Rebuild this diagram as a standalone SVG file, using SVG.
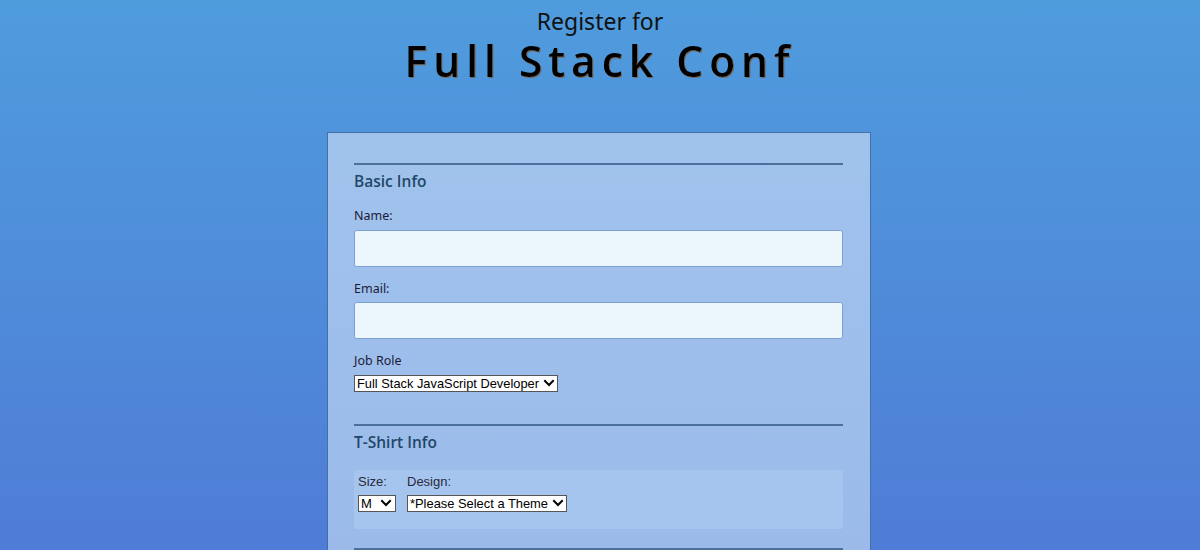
<svg xmlns="http://www.w3.org/2000/svg" width="1200" height="550" viewBox="0 0 1200 550">
<defs>
<linearGradient id="bg" x1="0" y1="0" x2="0" y2="1">
<stop offset="0" stop-color="#4f9cdd"/>
<stop offset="1" stop-color="#4f7cd6"/>
</linearGradient>
<linearGradient id="panel" x1="0" y1="0" x2="0" y2="1">
<stop offset="0" stop-color="#a0c3ec"/>
<stop offset="1" stop-color="#9bbaea"/>
</linearGradient>
<filter id="shadow" x="-5%" y="-20%" width="110%" height="140%">
<feDropShadow dx="1" dy="1" stdDeviation="0.6" flood-color="#7a5a40" flood-opacity="0.8"/>
</filter>
<style>
.h{font-family:"Open Sans","Noto Sans",sans-serif;fill:#1f4868;font-size:15.5px;font-weight:600}
.lbl{font-family:"Noto Sans","Open Sans",sans-serif;fill:#1b1b38;font-size:12.5px}
.sl{font-family:"Liberation Sans",Arial,sans-serif;fill:#2a2a3a;font-size:13px}
.st{font-family:"Liberation Sans",Arial,sans-serif;fill:#000;font-size:13px}
.rule{stroke:#4c709c;stroke-width:2}
.inp{fill:#ebf7fd;stroke:#7b9fd0;stroke-width:1}
.sel{fill:#fff;stroke:#555;stroke-width:1}
.chev{fill:none;stroke:#000;stroke-width:2;stroke-linecap:square}
</style>
</defs>
<rect x="0" y="0" width="1200" height="550" fill="url(#bg)"/>
<g id="header">
<text x="600" y="30" text-anchor="middle" font-family="Noto Sans, sans-serif" font-size="23" fill="#111">Register for</text>
<text x="600" y="77" text-anchor="middle" font-family="Open Sans, Noto Sans, sans-serif" font-size="42.5" font-weight="600" letter-spacing="6" fill="#000" filter="url(#shadow)">Full Stack Conf</text>
</g>
<g id="panel-box">
<rect x="327.5" y="132.5" width="543" height="430" fill="url(#panel)" stroke="#4470a8" stroke-width="1"/>
</g>
<g id="basic-info">
<line class="rule" x1="354" y1="164" x2="843" y2="164"/>
<text class="h" x="354" y="187">Basic Info</text>
</g>
<g id="name-field">
<text class="lbl" x="354" y="220">Name:</text>
<rect class="inp" x="354.5" y="230.5" width="488" height="36" rx="2"/>
</g>
<g id="email-field">
<text class="lbl" x="354" y="293">Email:</text>
<rect class="inp" x="354.5" y="302.5" width="488" height="36" rx="2"/>
</g>
<g id="job-role">
<text class="lbl" x="354" y="365">Job Role</text>
<rect class="sel" x="354.5" y="375.5" width="203" height="16"/>
<text class="st" x="357" y="388" textLength="182" lengthAdjust="spacingAndGlyphs">Full Stack JavaScript Developer</text>
<polyline class="chev" points="545,381 549,385 553,381"/>
</g>
<g id="tshirt-info">
<line class="rule" x1="354" y1="425" x2="843" y2="425"/>
<text class="h" x="354" y="448">T-Shirt Info</text>
<rect x="354" y="470" width="489" height="59" rx="3" fill="#a6c5ee"/>
</g>
<g id="size-field">
<text class="sl" x="358" y="486">Size:</text>
<rect class="sel" x="358.5" y="495.5" width="37" height="16"/>
<text class="st" x="361" y="508">M</text>
<polyline class="chev" points="382,501 386,505 390,501"/>
</g>
<g id="design-field">
<text class="sl" x="407" y="486">Design:</text>
<rect class="sel" x="407.5" y="495.5" width="159" height="16"/>
<text class="st" x="410" y="508" textLength="138" lengthAdjust="spacingAndGlyphs">*Please Select a Theme</text>
<polyline class="chev" points="554,501 558,505 562,501"/>
</g>
<g id="connectors"></g>
<line class="rule" x1="354" y1="549" x2="843" y2="549"/>
</svg>
